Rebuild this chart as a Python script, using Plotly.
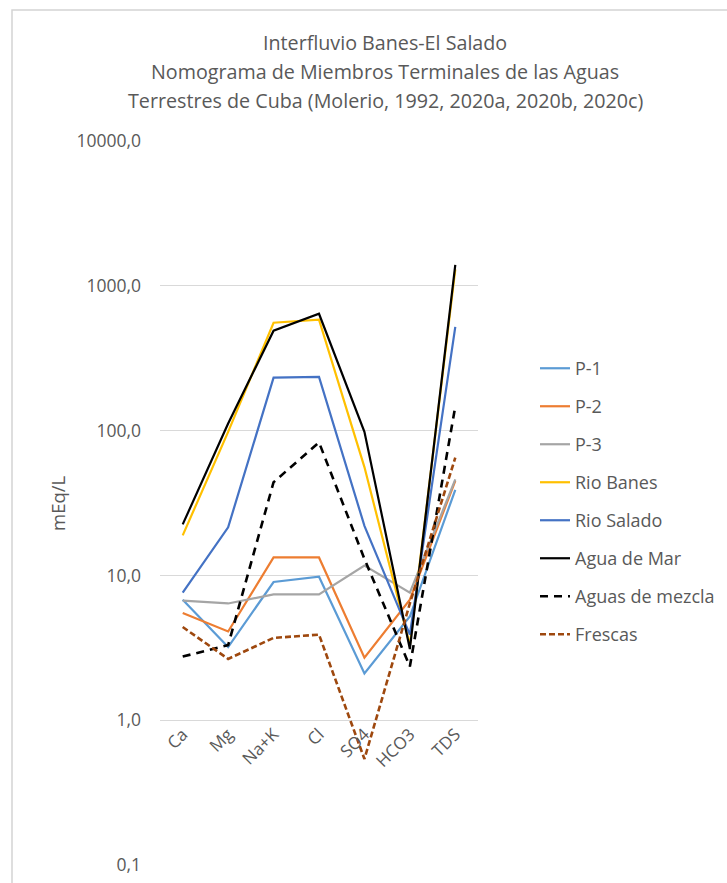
import plotly.graph_objects as go

# Ion categories along the horizontal axis
categories = ["Ca", "Mg", "Na+K", "Cl", "SO4", "HCO3", "TDS"]

# Concentrations in mEq/L (TDS in the same plotted scale)
p1 = [6.8, 3.2, 9.0, 9.8, 2.1, 5.2, 39]
p2 = [5.5, 4.1, 13.3, 13.3, 2.7, 6.8, 45]
p3 = [6.7, 6.4, 7.4, 7.4, 11.7, 7.6, 46]
rio_banes = [18.9, 98, 556, 583, 56, 3.3, 1300]
rio_salado = [7.6, 21.5, 232, 235, 22, 3.9, 521]
agua_mar = [22.5, 112, 490, 641, 98, 3.1, 1397]
aguas_mezcla = [2.75, 3.3, 44, 83, 13, 2.35, 147]
frescas = [4.4, 2.65, 3.7, 3.9, 0.54, 6.4, 65]

# y-axis tick values and their comma-decimal labels
tick_vals = [0.1, 1, 10, 100, 1000, 10000]
tick_text = ["0,1", "1,0", "10,0", "100,0", "1000,0", "10000,0"]

# Chart title, one entry per line
title_lines = [
    "Interfluvio Banes-El Salado",
    "Nomograma de Miembros Terminales de las Aguas",
    "Terrestres de Cuba (Molerio, 1992, 2020a, 2020b, 2020c)",
]

series = [
    ("P-1", p1, "#5B9BD5", "solid", 2.2),
    ("P-2", p2, "#ED7D31", "solid", 2.2),
    ("P-3", p3, "#A5A5A5", "solid", 2.2),
    ("Rio Banes", rio_banes, "#FFC000", "solid", 2.2),
    ("Rio Salado", rio_salado, "#4472C4", "solid", 2.2),
    ("Agua de Mar", agua_mar, "#000000", "solid", 2.2),
    ("Aguas de mezcla", aguas_mezcla, "#000000", "8px,6px", 2.6),
    ("Frescas", frescas, "#9E480E", "6px,3px", 2.6),
]

TXT = "#595959"
FONT = "'Open Sans', Lato, sans-serif"

fig = go.Figure()
for name, vals, color, dash, width in series:
    fig.add_trace(go.Scatter(
        x=categories, y=vals, name=name, mode="lines",
        legendgroup=name,
        line=dict(color=color, dash=dash, width=width),
    ))

W, H = 727, 883
L, R, T, B = 160, 249, 141, 18
pw, ph = W - L - R, H - T - B


def px(xp):
    return (xp - L) / pw


def py(yp):
    return (H - B - yp) / ph


annotations = [
    dict(
        text=line, xref="paper", yref="paper", x=px(385), y=py(yc),
        xanchor="center", yanchor="middle", showarrow=False,
        font=dict(size=19.7, color=TXT, family=FONT),
    )
    for line, yc in zip(title_lines, [43, 71.5, 100])
]
annotations.append(dict(
    text="mEq/L", textangle=-90,
    xref="paper", yref="paper", x=px(57), y=0.5,
    xanchor="center", yanchor="middle", showarrow=False,
    font=dict(size=18.5, color=TXT, family=FONT),
))

fig.update_layout(
    width=W, height=H,
    margin=dict(l=L, r=R, t=T, b=B, autoexpand=False),
    paper_bgcolor="white", plot_bgcolor="white",
    font=dict(family=FONT, color=TXT, size=15),
    showlegend=True,
    legend=dict(
        x=px(535), y=0.502, xanchor="left", yanchor="middle",
        font=dict(size=18, color=TXT, family=FONT),
        tracegroupgap=11.6, bgcolor="rgba(0,0,0,0)",
    ),
    xaxis=dict(
        type="category", range=[-0.5, 6.5],
        showgrid=False, zeroline=False, showline=False,
        anchor="free", position=0.2, automargin=False,
        tickangle=-45, ticks="",
        tickfont=dict(size=17, color=TXT, family=FONT),
    ),
    yaxis=dict(
        type="log", range=[-1, 4], automargin=False,
        tickvals=tick_vals, ticktext=tick_text,
        showgrid=True, gridcolor="#D9D9D9", gridwidth=1,
        zeroline=False, showline=False, ticks="",
        ticklabelstandoff=18,
        tickfont=dict(size=17.5, color=TXT, family=FONT),
    ),
    annotations=annotations,
    shapes=[
        # chart frame (top and left edges fall inside the page)
        dict(type="rect", xref="paper", yref="paper",
             x0=px(12), x1=px(760), y0=py(10), y1=py(920),
             line=dict(color="#D4D4D4", width=1.5),
             fillcolor="rgba(0,0,0,0)", layer="below"),
    ],
)

fig.write_html("out.html")
